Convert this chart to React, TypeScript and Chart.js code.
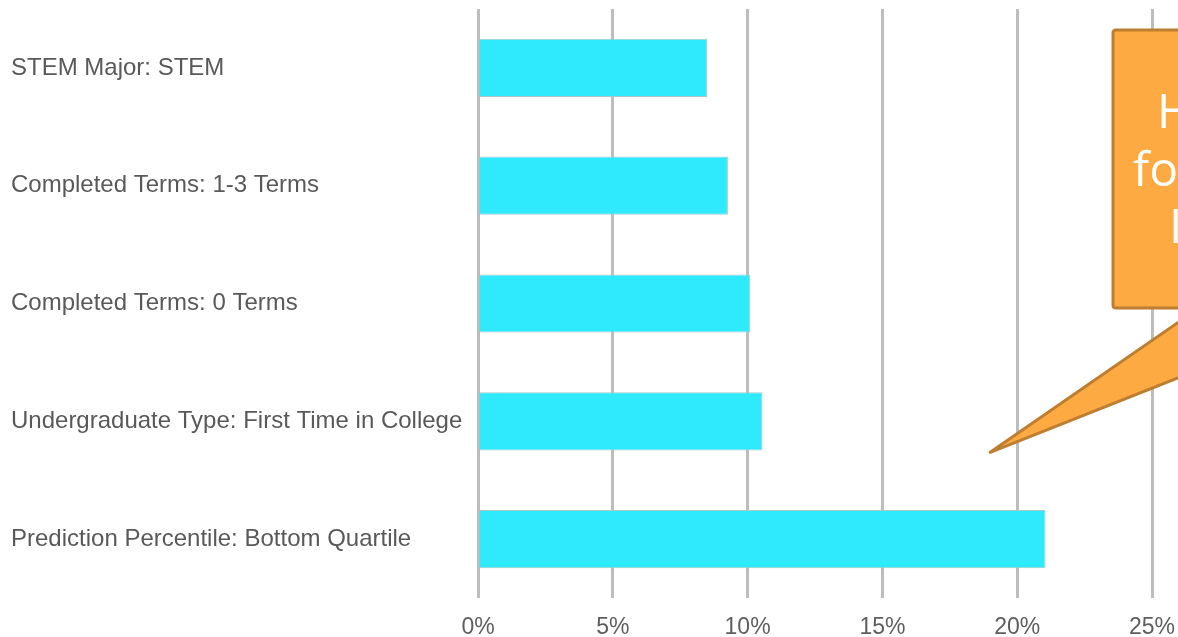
import React, { useEffect, useRef } from "react";
import { Chart, registerables } from "chart.js";

Chart.register(...registerables);

const categories = [
  "STEM Major: STEM",
  "Completed Terms: 1-3 Terms",
  "Completed Terms: 0 Terms",
  "Undergraduate Type: First Time in College",
  "Prediction Percentile: Bottom Quartile",
];
const values = [8.5, 9.27, 10.1, 10.55, 21.05];
const xTicks = [0, 5, 10, 15, 20, 25];
const calloutLines = ["Highest risk", "for students in", "Italic"];

const calloutPlugin = {
  id: "callout",
  afterDraw(chart: any) {
    const ctx = chart.ctx;
    const xs = chart.scales.x;
    const ys = chart.scales.y;
    ctx.save();
    const tipX = xs.getPixelForValue(19.0);
    const tipY = ys.getPixelForValue(3) + 31;
    const boxL = 1113;
    const boxT = 30;
    const boxB = 308;
    ctx.lineJoin = "round";
    ctx.lineWidth = 3;
    ctx.strokeStyle = "#BE7E31";
    ctx.fillStyle = "#FEAA43";
    ctx.beginPath();
    ctx.moveTo(boxL + 3, boxT);
    ctx.lineTo(1260, boxT);
    ctx.lineTo(1260, boxB);
    ctx.lineTo(boxL + 3, boxB);
    ctx.quadraticCurveTo(boxL, boxB, boxL, boxB - 3);
    ctx.lineTo(boxL, boxT + 3);
    ctx.quadraticCurveTo(boxL, boxT, boxL + 3, boxT);
    ctx.closePath();
    ctx.fill();
    ctx.stroke();
    ctx.beginPath();
    ctx.moveTo(1199, boxB);
    ctx.lineTo(tipX, tipY);
    ctx.lineTo(1354, boxB);
    ctx.closePath();
    ctx.fill();
    ctx.stroke();
    ctx.fillStyle = "#FFFFFF";
    ctx.font = "48px 'Open Sans', sans-serif";
    ctx.textBaseline = "alphabetic";
    ctx.textAlign = "left";
    const starts = [1157, 1133, 1169];
    const baselines = [128, 186, 243];
    calloutLines.forEach((t, i) => ctx.fillText(t, starts[i], baselines[i]));
    ctx.restore();
  },
};

export default function App() {
  const ref = useRef<HTMLCanvasElement | null>(null);
  useEffect(() => {
    document.body.style.margin = "0";
    const canvas = ref.current;
    if (!canvas) return;
    const chart = new Chart(canvas, {
      type: "bar",
      data: {
        labels: categories,
        datasets: [
          {
            data: values,
            backgroundColor: "#2FE9FD",
            borderColor: "#A9C8CC",
            borderWidth: 1,
            categoryPercentage: 1,
            barPercentage: 0.494,
          },
        ],
      },
      options: {
        indexAxis: "y",
        animation: false,
        responsive: false,
        maintainAspectRatio: false,
        layout: { padding: { left: 11, top: 9, right: 0, bottom: 0 } },
        plugins: {
          legend: { display: false },
          tooltip: { enabled: false },
        },
        scales: {
          x: {
            min: 0,
            max: 25,
            afterBuildTicks: (s: any) => {
              s.ticks = xTicks.map((v) => ({ value: v }));
            },
            afterFit: (s: any) => {
              s.height = 39;
              s.paddingRight = 26;
              s.paddingLeft = 0;
            },
            grid: {
              color: "#BDBDBD",
              lineWidth: 3,
              drawTicks: false,
            },
            border: { display: false },
            ticks: {
              padding: 16,
              color: "#5E5E5E",
              font: { family: "'Liberation Sans', Arial, sans-serif", size: 23 },
              callback: (v: any) => v + "%",
            },
          },
          y: {
            afterFit: (s: any) => {
              s.width = 467;
              s.paddingTop = 0;
              s.paddingBottom = 0;
            },
            grid: { display: false },
            border: { display: false },
            ticks: {
              crossAlign: "far",
              color: "#595959",
              font: { family: "'Liberation Sans', Arial, sans-serif", size: 24 },
            },
          },
        },
      },
      plugins: [calloutPlugin],
    });
    return () => chart.destroy();
  }, []);
  return (
    <div style={{ width: 1178, height: 637, background: "#fff" }}>
      <canvas ref={ref} width={1178} height={637} style={{ display: "block" }} />
    </div>
  );
}
